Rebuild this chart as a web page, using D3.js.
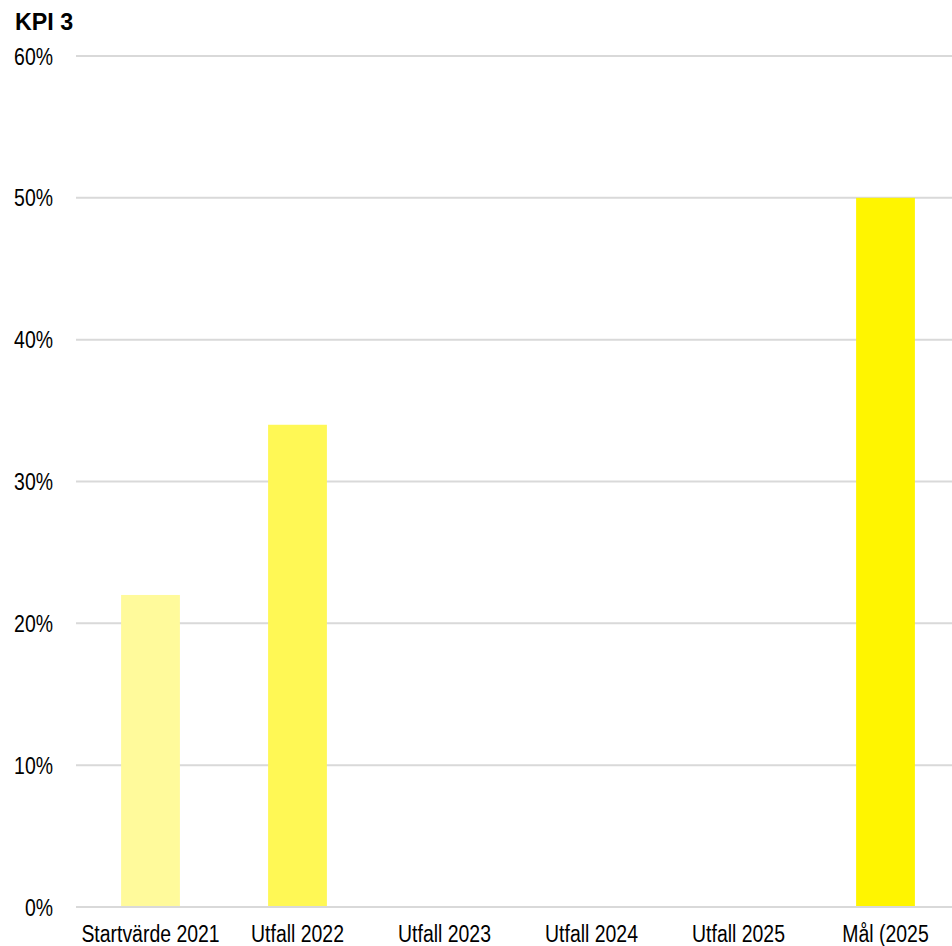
<!DOCTYPE html>
<html>
<head>
<meta charset="utf-8">
<script src="https://cdn.jsdelivr.net/npm/d3@7"></script>
<style>
  html, body { margin: 0; padding: 0; background: #fff; overflow: hidden; }
  svg { display: block; }
  text { font-family: "Liberation Sans Narrow", "Arial Narrow", "Liberation Sans", Arial, sans-serif; fill: #000; }
</style>
</head>
<body>
<svg id="chart" width="952" height="946"></svg>
<script>
// KPI 3 – share per year, with the 2025 target
const categories = ["Startvärde 2021", "Utfall 2022", "Utfall 2023", "Utfall 2024", "Utfall 2025", "Mål (2025"];
const values = [22, 34, null, null, null, 50];
const barColors = ["#FFFA9B", "#FFF855", "#FFF855", "#FFF855", "#FFF855", "#FFF500"];
const yTicks = [0, 10, 20, 30, 40, 50, 60];
const title = "KPI 3";

const W = 952, H = 946;
const plot = { left: 77, right: 959, top: 56, bottom: 907 };
// horizontal condensing so regular sans reads like a narrow face
const NARROW = 0.81;

const svg = d3.select("#chart");

const x = d3.scaleBand()
  .domain(categories)
  .range([plot.left, plot.right])
  .paddingInner(0.6)
  .paddingOuter(0.3);

const y = d3.scaleLinear()
  .domain([0, 60])
  .range([plot.bottom, plot.top]);

// horizontal gridlines
svg.append("g")
  .selectAll("line")
  .data(yTicks)
  .join("line")
  .attr("x1", 76)
  .attr("x2", W)
  .attr("y1", d => y(d))
  .attr("y2", d => y(d))
  .attr("stroke", "#d9d9d9")
  .attr("stroke-width", 2);

// y tick labels
svg.append("g")
  .selectAll("text")
  .data(yTicks)
  .join("text")
  .attr("transform", d => `translate(53,${y(d)}) scale(${NARROW},1)`)
  .attr("dy", "0.36em")
  .attr("text-anchor", "end")
  .attr("font-size", 24)
  .text(d => d + "%");

// bars
svg.append("g")
  .selectAll("rect")
  .data(categories.map((c, i) => ({ c, v: values[i], color: barColors[i] })).filter(d => d.v != null))
  .join("rect")
  .attr("x", d => x(d.c))
  .attr("width", x.bandwidth())
  .attr("y", d => y(d.v))
  .attr("height", d => y(0) - y(d.v))
  .attr("fill", d => d.color);

// redraw the baseline over the bars
svg.append("line")
  .attr("x1", 76).attr("x2", W)
  .attr("y1", y(0)).attr("y2", y(0))
  .attr("stroke", "#d9d9d9")
  .attr("stroke-width", 2);

// category labels
svg.append("g")
  .selectAll("text")
  .data(categories)
  .join("text")
  .attr("transform", d => `translate(${x(d) + x.bandwidth() / 2},942) scale(${NARROW},1)`)
  .attr("text-anchor", "middle")
  .attr("font-size", 24)
  .text(d => d);

// title
svg.append("text")
  .attr("transform", "translate(15,30) scale(0.97,1)")
  .attr("font-size", 24)
  .attr("font-weight", "bold")
  .text(title);
</script>
</body>
</html>
